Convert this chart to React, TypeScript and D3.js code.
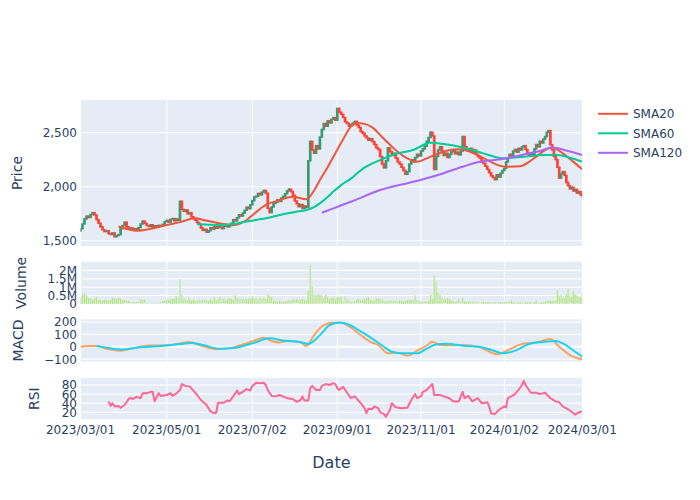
import React, { useEffect, useRef } from 'react';
import * as d3 from 'd3';

// x axis: trading-day index of each labelled date
const tickLabels = ['2023/03/01', '2023/05/01', '2023/07/02', '2023/09/01', '2023/11/01', '2024/01/02', '2024/03/01'];
const tickIndex = [0, 43, 88, 132, 175, 219, 263];

// daily closes (one per trading day); each session opens at the prior close
const firstOpen = 1590;
const closes = [
  1612, 1655, 1702, 1728, 1715, 1742, 1760, 1738, 1695, 1662,
  1628, 1601, 1585, 1592, 1566, 1558, 1572, 1537, 1548, 1556,
  1612, 1640, 1672, 1628, 1606, 1618, 1597, 1612, 1604, 1622,
  1655, 1682, 1660, 1641, 1632, 1648, 1625, 1638, 1630, 1642,
  1635, 1652, 1676, 1688, 1672, 1697, 1705, 1684, 1702, 1690,
  1865, 1790, 1772, 1785, 1748, 1760, 1722, 1705, 1690, 1668,
  1652, 1618, 1596, 1605, 1578, 1592, 1620, 1608, 1632, 1615,
  1638, 1625, 1612, 1634, 1645, 1628, 1640, 1662, 1695, 1684,
  1712, 1740, 1728, 1756, 1782, 1810, 1796, 1832, 1870, 1905,
  1912, 1938, 1925, 1950, 1966, 1940, 1800, 1760, 1812, 1846,
  1858, 1880, 1864, 1895, 1912, 1935, 1962, 1978, 1955, 1920,
  1868, 1842, 1815, 1835, 1798, 1822, 1808, 2240, 2420, 2340,
  2310, 2380, 2350, 2460, 2530, 2585, 2560, 2610, 2590, 2625,
  2640, 2615, 2725, 2690, 2670, 2640, 2600, 2585, 2560, 2575,
  2590, 2605, 2570, 2548, 2510, 2495, 2470, 2452, 2430, 2445,
  2418, 2390, 2360, 2345, 2280, 2210, 2175, 2240, 2360, 2325,
  2290, 2310, 2265, 2230, 2210, 2180, 2150, 2115, 2140, 2210,
  2250, 2230, 2270, 2300, 2285, 2330, 2350, 2375, 2420, 2455,
  2505, 2470, 2160, 2280, 2340, 2370, 2330, 2290, 2310, 2270,
  2300, 2325, 2340, 2305, 2320, 2295, 2330, 2465, 2370, 2350,
  2330, 2355, 2320, 2340, 2300, 2280, 2265, 2230, 2215, 2190,
  2160, 2130, 2100, 2085, 2065, 2110, 2090, 2125, 2150, 2170,
  2230, 2265, 2300, 2285, 2330, 2345, 2320, 2355, 2340, 2370,
  2380, 2345, 2305, 2290, 2310, 2285, 2350, 2390, 2370, 2420,
  2405, 2440, 2465, 2505, 2520, 2390, 2340, 2280, 2250, 2180,
  2080, 2120, 2140, 2105, 2040, 2010, 1980, 1995, 1960, 1975,
  1940, 1955, 1925, 1915,
];

// daily volume, millions of shares
const volumesM = [
  0.36, 0.58, 0.66, 0.52, 0.34, 0.36, 0.28, 0.34, 0.43, 0.24,
  0.26, 0.22, 0.27, 0.25, 0.23, 0.26, 0.38, 0.35, 0.34, 0.36,
  0.30, 0.26, 0.25, 0.22, 0.20, 0.18, 0.15, 0.14, 0.16, 0.14,
  0.31, 0.28, 0.27, 0.12, 0.10, 0.11, 0.09, 0.10, 0.11, 0.12,
  0.14, 0.20, 0.24, 0.26, 0.30, 0.28, 0.34, 0.33, 0.48, 0.38,
  1.48, 0.55, 0.34, 0.28, 0.25, 0.30, 0.22, 0.26, 0.20, 0.24,
  0.28, 0.22, 0.26, 0.30, 0.25, 0.22, 0.27, 0.20, 0.44, 0.26,
  0.30, 0.44, 0.32, 0.34, 0.28, 0.30, 0.36, 0.32, 0.28, 0.54,
  0.38, 0.30, 0.34, 0.32, 0.28, 0.30, 0.34, 0.30, 0.44, 0.33,
  0.36, 0.30, 0.38, 0.32, 0.38, 0.32, 0.58, 0.54, 0.44, 0.22,
  0.18, 0.17, 0.20, 0.16, 0.15, 0.18, 0.20, 0.26, 0.24, 0.28,
  0.26, 0.34, 0.28, 0.26, 0.30, 0.24, 0.22, 0.79, 2.36, 1.03,
  0.55, 0.52, 0.58, 0.54, 0.50, 0.42, 0.56, 0.48, 0.30, 0.36,
  0.40, 0.30, 0.42, 0.40, 0.44, 0.16, 0.48, 0.30, 0.22, 0.18,
  0.16, 0.20, 0.30, 0.32, 0.30, 0.28, 0.32, 0.36, 0.40, 0.26,
  0.22, 0.20, 0.34, 0.34, 0.34, 0.30, 0.20, 0.18, 0.20, 0.24,
  0.22, 0.20, 0.24, 0.18, 0.22, 0.20, 0.18, 0.20, 0.24, 0.26,
  0.24, 0.22, 0.50, 0.24, 0.22, 0.18, 0.16, 0.18, 0.14, 0.20,
  0.54, 0.30, 1.73, 1.37, 0.70, 0.54, 0.38, 0.36, 0.34, 0.36,
  0.30, 0.24, 0.16, 0.14, 0.18, 0.34, 0.14, 0.38, 0.16, 0.15,
  0.16, 0.14, 0.15, 0.16, 0.12, 0.14, 0.12, 0.11, 0.13, 0.12,
  0.12, 0.14, 0.11, 0.12, 0.13, 0.12, 0.14, 0.12, 0.11, 0.13,
  0.12, 0.14, 0.16, 0.24, 0.12, 0.10, 0.11, 0.10, 0.12, 0.10,
  0.12, 0.11, 0.10, 0.12, 0.14, 0.10, 0.12, 0.24, 0.11, 0.10,
  0.12, 0.10, 0.18, 0.20, 0.24, 0.22, 0.20, 0.24, 0.22, 0.83,
  0.48, 0.54, 0.40, 0.34, 0.60, 0.93, 0.50, 0.44, 0.78, 0.58,
  0.50, 0.44, 0.40, 0.58,
];

// indicator readings as [trading-day index, value]
const sma20: [number, number][] = [
  [19, 1632], [24, 1605], [28, 1592], [35, 1610], [43, 1645], [50, 1672], [58, 1707], [63, 1690],
  [69, 1667], [78, 1645], [85, 1692], [90, 1765], [95, 1831], [102, 1875], [109, 1907], [116, 1883],
  [120, 1965], [123, 2062], [127, 2180], [130, 2278], [135, 2440], [139, 2556], [142, 2590], [146, 2582],
  [150, 2550], [155, 2460], [159, 2390], [163, 2324], [168, 2262], [173, 2231], [177, 2255], [180, 2278],
  [187, 2324], [194, 2346], [201, 2324], [205, 2292], [210, 2247], [215, 2205], [220, 2185], [228, 2190],
  [233, 2230], [237, 2278], [242, 2340], [246, 2363], [252, 2309], [258, 2230], [263, 2161],
];
const sma60: [number, number][] = [
  [59, 1652], [65, 1648], [71, 1645], [78, 1655], [85, 1678], [95, 1707], [105, 1750], [112, 1772],
  [116, 1784], [120, 1812], [124, 1860], [127, 1905], [130, 1955], [134, 2015], [139, 2075], [145, 2165],
  [154, 2247], [162, 2303], [171, 2340], [180, 2408], [187, 2395], [197, 2364], [208, 2309], [218, 2263],
  [230, 2278], [241, 2294], [249, 2294], [256, 2269], [263, 2232],
];
const sma120: [number, number][] = [
  [124, 1759], [130, 1800], [139, 1861], [154, 1969], [171, 2046], [180, 2087], [197, 2185],
  [206, 2231], [218, 2256], [233, 2309], [240, 2335], [246, 2364], [255, 2330], [263, 2294],
];
const macd: [number, number][] = [
  [0, 0], [4, 6], [8, 7], [12, -12], [16, -25], [20, -32], [26, -14], [34, 10], [43, 12], [50, 27],
  [55, 38], [60, 14], [65, -8], [69, -21], [78, -5], [85, 27], [90, 55], [94, 73], [98, 48], [102, 35],
  [107, 48], [113, 35], [116, 6], [120, 94], [125, 175], [130, 194], [134, 192], [139, 156], [144, 95],
  [149, 40], [153, 14], [158, -53], [163, -48], [168, -73], [173, -32], [178, 10], [181, 40], [185, 14],
  [191, 12], [197, 14], [206, -5], [210, -30], [215, -61], [222, -21], [230, 27], [237, 35], [245, 62],
  [250, 0], [256, -67], [263, -102],
];
const signal: [number, number][] = [
  [8, 7], [14, -10], [20, -22], [30, -5], [43, 11], [50, 22], [56, 30], [62, 14], [71, -16], [78, -10],
  [88, 27], [97, 68], [105, 48], [112, 41], [117, 22], [123, 94], [128, 175], [133, 197], [138, 178],
  [144, 125], [149, 76], [155, 10], [160, -40], [166, -53], [173, -53], [178, -15], [183, 19], [188, 24],
  [197, 8], [206, 0], [212, -25], [218, -53], [226, -27], [233, 22], [241, 38], [248, 46], [252, 27],
  [258, -30], [263, -81],
];
const rsi: [number, number][] = [
  [14, 44], [15, 34], [16, 40], [17, 33], [19, 34], [20, 30], [22, 36], [24, 49], [25, 52], [26, 49],
  [28, 54], [30, 51], [31, 62], [33, 62], [35, 65], [36, 65], [37, 44], [39, 62], [40, 56], [43, 58],
  [45, 62], [46, 56], [48, 61], [50, 69], [51, 82], [53, 78], [55, 77], [57, 68], [59, 58], [61, 47],
  [62, 43], [64, 36], [66, 22], [68, 18], [69, 19], [70, 41], [73, 41], [75, 46], [76, 44], [78, 55],
  [80, 68], [81, 60], [83, 65], [85, 71], [87, 68], [88, 78], [90, 85], [92, 84], [94, 85], [95, 80],
  [96, 69], [98, 56], [100, 55], [102, 58], [106, 51], [109, 49], [111, 43], [113, 47], [114, 55],
  [115, 46], [117, 46], [118, 73], [119, 78], [121, 69], [123, 69], [124, 78], [126, 82], [128, 80],
  [130, 84], [131, 82], [132, 73], [133, 69], [135, 76], [137, 63], [139, 51], [141, 55], [144, 40],
  [146, 29], [147, 18], [148, 28], [150, 27], [151, 33], [153, 29], [154, 20], [156, 16], [157, 10],
  [159, 25], [160, 40], [162, 31], [165, 29], [168, 30], [170, 47], [172, 60], [173, 51], [175, 55],
  [176, 65], [178, 69], [180, 78], [181, 82], [182, 58], [185, 58], [187, 55], [190, 51], [192, 44],
  [195, 44], [197, 65], [198, 51], [200, 56], [202, 44], [205, 51], [207, 40], [210, 42], [211, 33],
  [212, 18], [214, 16], [216, 25], [219, 33], [220, 31], [221, 51], [223, 55], [225, 60], [227, 69],
  [229, 80], [230, 89], [231, 80], [234, 63], [237, 63], [239, 60], [242, 63], [245, 51], [248, 44],
  [250, 42], [252, 33], [256, 24], [259, 15], [261, 20], [263, 22],
];

const priceTicks = [1500, 2000, 2500];
const volTicks = [0, 0.5, 1, 1.5, 2];
const macdTicks = [-100, 0, 100, 200];
const rsiTicks = [20, 40, 60, 80];

const legendItems = [
  { name: 'SMA20', color: '#EF553B' },
  { name: 'SMA60', color: '#00CC96' },
  { name: 'SMA120', color: '#AB63FA' },
];

const FONT = '"DejaVu Sans", Verdana, sans-serif';
const TEXT = '#2a3f5f';

const App: React.FC = () => {
  const svgRef = useRef<SVGSVGElement>(null);

  useEffect(() => {
    const svg = d3.select(svgRef.current);
    svg.selectAll('*').remove();

    const left = 80.5;
    const right = 582.3;
    const panels = {
      price: { top: 100, bottom: 246 },
      vol: { top: 261.7, bottom: 304 },
      macd: { top: 319.3, bottom: 361.7 },
      rsi: { top: 378, bottom: 419.3 },
    };

    // trading-day index -> pixel, pinned on the labelled dates
    const x = d3.scaleLinear()
      .domain(tickIndex)
      .range([left, 166.7, 252.3, 337.3, 421, 504.3, right]);

    const yPrice = d3.scaleLinear().domain([1451, 2803]).range([panels.price.bottom, panels.price.top]);
    const yVol = d3.scaleLinear().domain([0, 2.52]).range([panels.vol.bottom, panels.vol.top]);
    const yMacd = d3.scaleLinear().domain([-121, 222]).range([panels.macd.bottom, panels.macd.top]);
    const yRsi = d3.scaleLinear().domain([4.6, 95.4]).range([panels.rsi.bottom, panels.rsi.top]);

    svg.append('rect').attr('width', 700).attr('height', 500).attr('fill', '#fff');

    const defs = svg.append('defs');
    const panelGroup = (key: string, p: { top: number; bottom: number }) => {
      defs.append('clipPath').attr('id', `clip-${key}`)
        .append('rect')
        .attr('x', left).attr('y', p.top)
        .attr('width', right - left).attr('height', p.bottom - p.top);
      svg.append('rect')
        .attr('x', left).attr('y', p.top)
        .attr('width', right - left).attr('height', p.bottom - p.top)
        .attr('fill', '#E5ECF6');
      // vertical grid
      svg.append('g').selectAll('line').data(tickIndex).enter().append('line')
        .attr('x1', d => x(d)).attr('x2', d => x(d))
        .attr('y1', p.top).attr('y2', p.bottom)
        .attr('stroke', '#fff').attr('stroke-width', 1);
      return svg.append('g').attr('clip-path', `url(#clip-${key})`);
    };

    const hGrid = (
      g: d3.Selection<SVGGElement, unknown, null, undefined>,
      ticks: number[],
      y: d3.ScaleLinear<number, number>,
      zero = false
    ) => {
      g.selectAll('line.grid').data(ticks).enter().append('line')
        .attr('class', 'grid')
        .attr('x1', left).attr('x2', right)
        .attr('y1', d => y(d)).attr('y2', d => y(d))
        .attr('stroke', '#fff')
        .attr('stroke-width', d => (zero && d === 0 ? 2 : 1));
    };

    const yLabels = (ticks: number[], y: d3.ScaleLinear<number, number>, fmt: (v: number) => string) => {
      svg.append('g').selectAll('text').data(ticks).enter().append('text')
        .attr('x', 77)
        .attr('y', d => y(d) + 4.4)
        .attr('text-anchor', 'end')
        .attr('font-family', FONT).attr('font-size', 12).attr('fill', TEXT)
        .text(d => fmt(d));
    };

    const yTitle = (label: string, xPos: number, p: { top: number; bottom: number }) => {
      const cy = (p.top + p.bottom) / 2;
      svg.append('text')
        .attr('transform', `translate(${xPos},${cy}) rotate(-90)`)
        .attr('text-anchor', 'middle')
        .attr('font-family', FONT).attr('font-size', 14).attr('fill', TEXT)
        .text(label);
    };

    // ---- price panel
    const gPrice = panelGroup('price', panels.price);
    hGrid(gPrice, priceTicks, yPrice);

    const candles = closes.map((c, i) => ({ i, o: i === 0 ? firstOpen : closes[i - 1], c }));
    gPrice.selectAll('rect.candle').data(candles).enter().append('rect')
      .attr('class', 'candle')
      .attr('x', d => x(d.i) - 0.6)
      .attr('width', 1.2)
      .attr('y', d => yPrice(Math.max(d.o, d.c)))
      .attr('height', d => Math.max(0.5, Math.abs(yPrice(d.o) - yPrice(d.c))))
      .attr('fill', d => (d.c >= d.o ? '#3D9970' : '#FF4136'))
      .attr('fill-opacity', 0.5)
      .attr('stroke', d => (d.c >= d.o ? '#3D9970' : '#FF4136'))
      .attr('stroke-width', 1.5);

    const priceLine = d3.line<[number, number]>()
      .x(d => x(d[0])).y(d => yPrice(d[1]))
      .curve(d3.curveMonotoneX);
    [sma20, sma60, sma120].forEach((series, k) => {
      gPrice.append('path')
        .datum(series)
        .attr('d', priceLine)
        .attr('fill', 'none')
        .attr('stroke', legendItems[k].color)
        .attr('stroke-width', 2);
    });

    yLabels(priceTicks, yPrice, d3.format(','));
    yTitle('Price', 21.5, panels.price);

    // ---- volume panel
    const gVol = panelGroup('vol', panels.vol);
    hGrid(gVol, volTicks, yVol, true);
    gVol.selectAll('rect.vol').data(volumesM).enter().append('rect')
      .attr('class', 'vol')
      .attr('x', (_d, i) => x(i) - 0.75)
      .attr('width', 1.5)
      .attr('y', d => yVol(d))
      .attr('height', d => yVol(0) - yVol(d))
      .attr('fill', '#B6E880')
      .attr('stroke', '#E5ECF6')
      .attr('stroke-width', 0.3);
    yLabels(volTicks, yVol, v => (v === 0 ? '0' : `${v}M`));
    yTitle('Volume', 25.5, panels.vol);

    // ---- MACD panel
    const gMacd = panelGroup('macd', panels.macd);
    hGrid(gMacd, macdTicks, yMacd, true);
    const macdLine = d3.line<[number, number]>()
      .x(d => x(d[0])).y(d => yMacd(d[1]))
      .curve(d3.curveMonotoneX);
    gMacd.append('path').datum(macd).attr('d', macdLine)
      .attr('fill', 'none').attr('stroke', '#FFA15A').attr('stroke-width', 2);
    gMacd.append('path').datum(signal).attr('d', macdLine)
      .attr('fill', 'none').attr('stroke', '#19D3F3').attr('stroke-width', 2);
    yLabels(macdTicks, yMacd, v => (v < 0 ? `\u2212${Math.abs(v)}` : `${v}`));
    yTitle('MACD', 22.7, panels.macd);

    // ---- RSI panel
    const gRsi = panelGroup('rsi', panels.rsi);
    hGrid(gRsi, rsiTicks, yRsi);
    const rsiLine = d3.line<[number, number]>().x(d => x(d[0])).y(d => yRsi(d[1]));
    gRsi.append('path').datum(rsi).attr('d', rsiLine)
      .attr('fill', 'none').attr('stroke', '#FF6692').attr('stroke-width', 2)
      .attr('stroke-linejoin', 'round');
    yLabels(rsiTicks, yRsi, v => `${v}`);
    yTitle('RSI', 39.3, panels.rsi);

    // ---- shared x axis labels
    svg.append('g').selectAll('text').data(tickIndex).enter().append('text')
      .attr('x', d => x(d))
      .attr('y', panels.rsi.bottom + 14.2)
      .attr('text-anchor', 'middle')
      .attr('font-family', FONT).attr('font-size', 12).attr('fill', TEXT)
      .text((_d, i) => tickLabels[i]);

    svg.append('text')
      .attr('x', (left + right) / 2)
      .attr('y', 468)
      .attr('text-anchor', 'middle')
      .attr('font-family', FONT).attr('font-size', 16).attr('fill', TEXT)
      .text('Date');

    // ---- legend
    const legend = svg.append('g').attr('transform', 'translate(598,113.8)');
    legendItems.forEach((item, k) => {
      const row = legend.append('g').attr('transform', `translate(0,${k * 19.5})`);
      row.append('line')
        .attr('x1', 0).attr('x2', 30)
        .attr('stroke', item.color).attr('stroke-width', 2);
      row.append('text')
        .attr('x', 35).attr('y', 4.4)
        .attr('font-family', FONT).attr('font-size', 12).attr('fill', TEXT)
        .text(item.name);
    });
  }, []);

  return (
    <div style={{ position: 'absolute', left: 0, top: 0 }}>
      <svg ref={svgRef} width={700} height={500} style={{ display: 'block' }} />
    </div>
  );
};

export default App;
